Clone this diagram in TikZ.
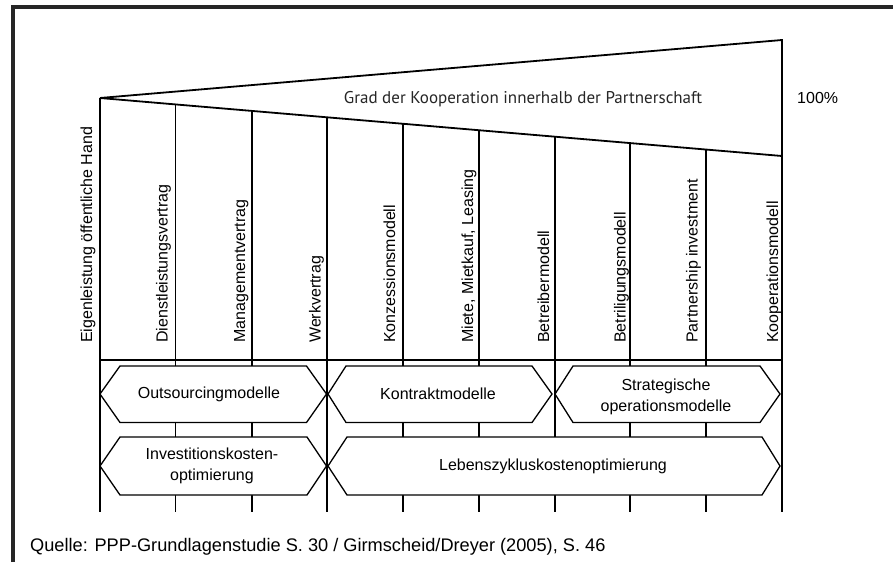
\documentclass[tikz,border=0pt]{standalone}
\usepackage{fontspec}
\setmainfont{Liberation Sans}
\newfontfamily\gradfont{PT Sans}
\usetikzlibrary{calc}
\begin{document}
\begin{tikzpicture}[x=1pt,y=-1pt,
  frameline/.style={line width=4pt, draw=black!85},
  edge/.style={line width=1.8pt, line join=miter},
  colline/.style={line width=2pt},
  hexbox/.style={draw, line width=1.3pt, fill=white, line join=miter},
  vlabel/.style={rotate=90, anchor=base west, inner sep=0pt, font=\fontsize{16}{18}\selectfont},
  boxlabel/.style={inner sep=0pt, align=center, font=\fontsize{16}{21}\selectfont},
  plain/.style={inner sep=0pt, font=\fontsize{16}{18}\selectfont},
]
\useasboundingbox (0,0) rectangle (893,562);
\fill[white] (0,0) rectangle (893,562);
% frame
\coordinate (f1) at (13,562);
\coordinate (f2) at (13,7);
\coordinate (f3) at (893,7);
\draw[frameline] (f1) -- (f2) -- (f3);
% triangle
\coordinate (A) at (100,98);
\coordinate (B) at (782,40);
\coordinate (C) at (782,156);
\draw[edge, fill=white] (A) -- (B) -- (C) -- cycle;
\node[font=\gradfont\fontsize{17}{19}\selectfont, text=black!85, inner sep=0pt] (grad) at (523,99) {Grad der Kooperation innerhalb der Partnerschaft};
\node[plain, anchor=west] (pct) at (797,98) {100\%};
% column lines
\foreach \k in {0,...,9} {
  \coordinate (t\k) at ($(A)!\k/9!(C)$);
  \coordinate (b\k) at (t\k |- 0,512);
}
\draw[line width=2.6pt] (t0) -- (b0);
\draw[line width=1pt] (t1) -- (b1);
\foreach \k in {2,...,9} { \draw[colline] (t\k) -- (b\k); }
\coordinate (h0) at (t0 |- 0,360);
\coordinate (h9) at (t9 |- 0,360);
\draw[colline] (h0) -- (h9);
% vertical labels
\node[vlabel] (l0) at (92,343) {Eigenleistung öffentliche Hand};
\node[vlabel] (l1) at (167.5,343) {Dienstleistungsvertrag};
\node[vlabel] (l2) at (245,343) {Managementvertrag};
\node[vlabel] (l3) at (320.5,343) {Werkvertrag};
\node[vlabel] (l4) at (395,343) {Konzessionsmodell};
\node[vlabel] (l5) at (473,343) {Miete,  Mietkauf, Leasing};
\node[vlabel] (l6) at (549,343) {Betreibermodell};
\node[vlabel] (l7) at (625.5,343) {Betriligungsmodell};
\node[vlabel] (l8) at (697.5,343) {Partnership investment};
\node[vlabel] (l9) at (778,343) {Kooperationsmodell};
% hexagon boxes row 1
\draw[hexbox] (100,394) -- (120,366) -- (306.5,366) -- (326.5,394) -- (306.5,422.5) -- (120,422.5) -- cycle;
\draw[hexbox] (328,394) -- (346,366) -- (532,366) -- (552,394) -- (532,422.5) -- (346,422.5) -- cycle;
\draw[hexbox] (555,394) -- (573,366) -- (760,366) -- (780,394) -- (760,422.5) -- (573,422.5) -- cycle;
% row 2
\draw[hexbox] (100,466) -- (120,437) -- (307,437) -- (326.5,466) -- (307,495) -- (120,495) -- cycle;
\draw[hexbox] (328,466) -- (347,437) -- (762,437) -- (780,466) -- (762,495) -- (347,495) -- cycle;
% box labels
\node[boxlabel] (out) at (209,394) {Outsourcingmodelle};
\node[boxlabel] (kon) at (438,394) {Kontraktmodelle};
\node[boxlabel] (str) at (666,397) {Strategische\\operationsmodelle};
\node[boxlabel] (inv) at (212,466) {Investitionskosten-\\optimierung};
\node[boxlabel] (leb) at (553,466) {Lebenszykluskostenoptimierung};
% source
\node[inner sep=0pt, font=\fontsize{18.2}{20}\selectfont, anchor=base west] (src) at (30,551) {Quelle: PPP-Grundlagenstudie S. 30 / Girmscheid/Dreyer (2005), S. 46};
\end{tikzpicture}
\end{document}
